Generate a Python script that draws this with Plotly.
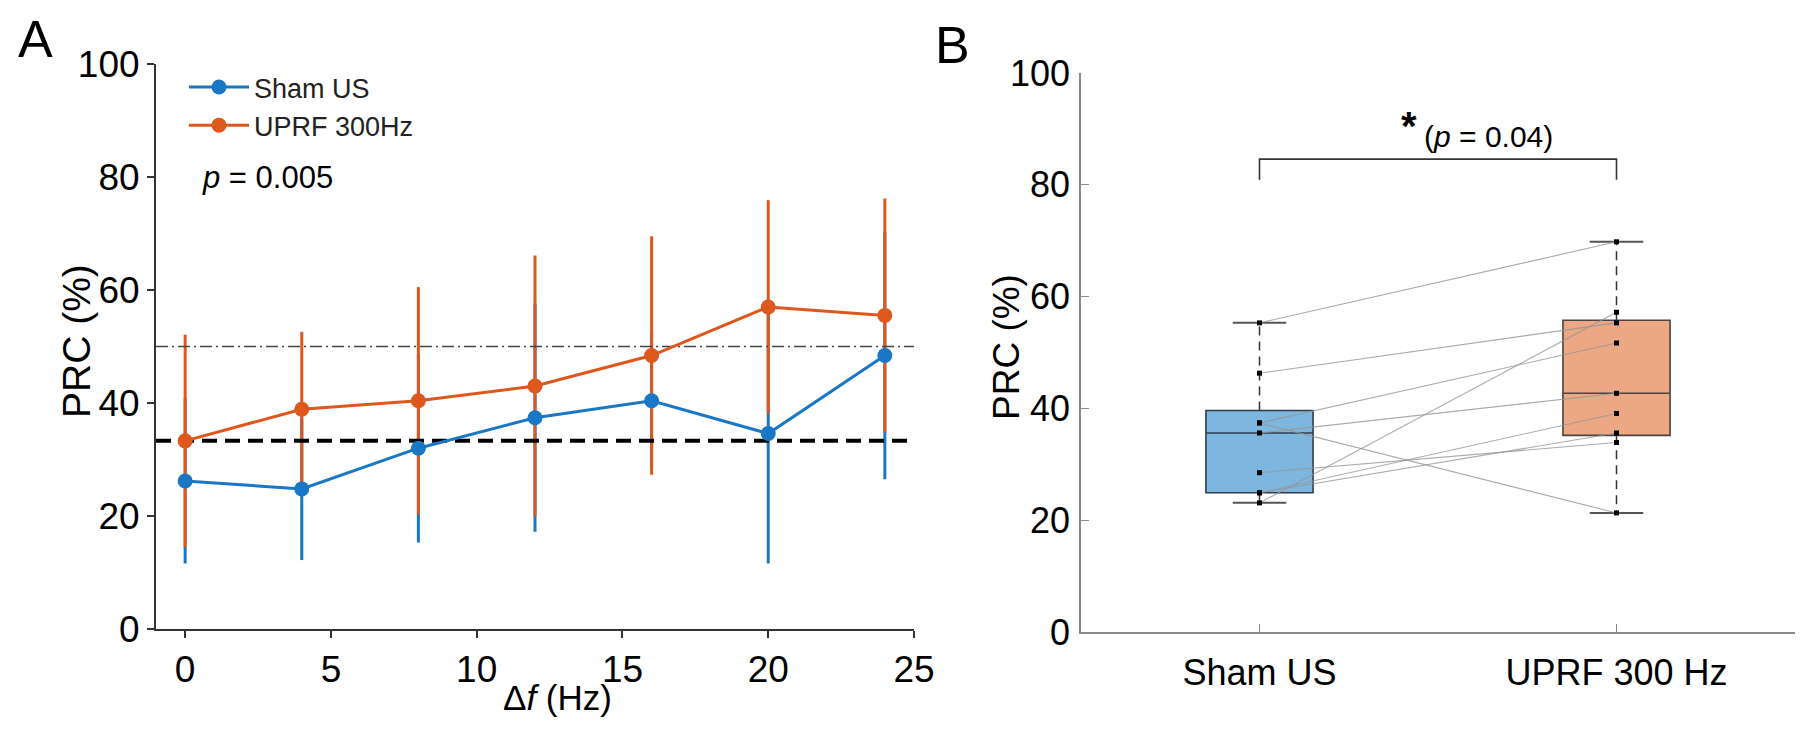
import numpy as np
import plotly.graph_objects as go

# ---------------- Data ----------------
# Panel A: PRC (%) vs frequency difference
delta_f = [0, 4, 8, 12, 16, 20, 24]
sham_mean = [26.2, 24.8, 32.0, 37.4, 40.4, 34.6, 48.4]
sham_err = [14.6, 12.6, 16.7, 20.2, 12.0, 23.0, 21.9]
uprf_mean = [33.3, 38.9, 40.4, 43.0, 48.4, 57.0, 55.5]
uprf_err = [18.8, 13.7, 20.1, 23.1, 21.1, 18.9, 20.7]
chance_lo = 33.3
chance_hi = 50.0
p_text_a = "<i>p</i> = 0.005"

# Panel B: paired subjects
groups = ["Sham US", "UPRF 300 Hz"]
sham_subj = [55.3, 46.3, 23.1, 37.4, 35.6, 37.4, 24.9, 28.5, 24.9]
uprf_subj = [69.8, 55.3, 57.2, 51.7, 42.7, 21.3, 39.1, 33.9, 35.6]
bracket_low, bracket_high = 80.9, 84.6
p_text_b = "(<i>p</i> = 0.04)"

# ---------------- Styles ----------------
BLUE = "#1a77c6"
ORANGE = "#de571d"
FONT = "Arial, Liberation Sans, Helvetica, sans-serif"
W, H = 1808, 731
OX, OY = 8, 7   # page offset compensation


def fx(p):
    return (p - OX) / W


def fy(p):
    return 1 - (p - OY) / H


fig = go.Figure()

# ---- Panel A ----
for mean, err, col in [(sham_mean, sham_err, BLUE), (uprf_mean, uprf_err, ORANGE)]:
    fig.add_trace(go.Scatter(
        x=delta_f, y=mean, mode="markers",
        marker=dict(size=1, color="rgba(0,0,0,0)"),
        error_y=dict(type="data", array=err, visible=True, color=col,
                     thickness=3, width=0),
        showlegend=False, hoverinfo="skip", xaxis="x", yaxis="y"))

fig.add_trace(go.Scatter(x=[-1, 25], y=[chance_hi, chance_hi], mode="lines",
                         line=dict(color="#444", width=1.6, dash="12px,4px,2px,4px"),
                         showlegend=False, hoverinfo="skip", xaxis="x", yaxis="y"))
fig.add_trace(go.Scatter(x=[-1, 25], y=[chance_lo, chance_lo], mode="lines",
                         line=dict(color="black", width=4, dash="15px,8px"),
                         showlegend=False, hoverinfo="skip", xaxis="x", yaxis="y"))

fig.add_trace(go.Scatter(x=delta_f, y=sham_mean, mode="lines+markers", name="Sham US",
                         line=dict(color=BLUE, width=3), marker=dict(size=15, color=BLUE),
                         xaxis="x", yaxis="y"))
fig.add_trace(go.Scatter(x=delta_f, y=uprf_mean, mode="lines+markers", name="UPRF 300Hz",
                         line=dict(color=ORANGE, width=3), marker=dict(size=15, color=ORANGE),
                         xaxis="x", yaxis="y"))

# ---- Panel B ----
box_fill = ["#7db6de", "#eca784"]
box_edge = ["#2f3d4f", "#4a4340"]
cap_half = 0.075
for i, (vals, fc, ec) in enumerate(zip([sham_subj, uprf_subj], box_fill, box_edge)):
    v = np.array(vals)
    q1, med, q3 = np.percentile(v, [25, 50, 75], method="hazen")
    iqr = q3 - q1
    hi = v[v <= q3 + 1.5 * iqr].max()
    lo = v[v >= q1 - 1.5 * iqr].min()
    fig.add_trace(go.Box(x=[i], q1=[q1], median=[med], q3=[q3],
                         lowerfence=[q1], upperfence=[q3], width=0.3,
                         fillcolor=fc, line=dict(color=ec, width=1.6),
                         whiskerwidth=0, boxpoints=False, showlegend=False,
                         hoverinfo="skip", xaxis="x2", yaxis="y2"))
    fig.add_trace(go.Scatter(x=[i, i, None, i, i], y=[q3, hi, None, q1, lo], mode="lines",
                             line=dict(color="#333", width=1.5, dash="9px,6px"),
                             showlegend=False, hoverinfo="skip", xaxis="x2", yaxis="y2"))
    fig.add_trace(go.Scatter(x=[i - cap_half, i + cap_half, None, i - cap_half, i + cap_half],
                             y=[hi, hi, None, lo, lo], mode="lines",
                             line=dict(color="#555", width=2),
                             showlegend=False, hoverinfo="skip", xaxis="x2", yaxis="y2"))

px, py = [], []
for s, u in zip(sham_subj, uprf_subj):
    px += [0, 1, None]
    py += [s, u, None]
fig.add_trace(go.Scatter(x=px, y=py, mode="lines",
                         line=dict(color="rgba(150,150,150,0.8)", width=1.1),
                         showlegend=False, hoverinfo="skip", xaxis="x2", yaxis="y2"))
fig.add_trace(go.Scatter(x=[0] * len(sham_subj) + [1] * len(uprf_subj),
                         y=sham_subj + uprf_subj, mode="markers",
                         marker=dict(symbol="square", size=5, color="black"),
                         showlegend=False, hoverinfo="skip", xaxis="x2", yaxis="y2"))

fig.add_trace(go.Scatter(x=[0, 0, 1, 1], y=[bracket_low, bracket_high, bracket_high, bracket_low],
                         mode="lines", line=dict(color="#333", width=1.6),
                         showlegend=False, hoverinfo="skip", xaxis="x2", yaxis="y2"))

# ---------------- Layout ----------------
axA = dict(showgrid=False, zeroline=False, showline=True, linecolor="#333", linewidth=2,
           ticks="outside", ticklen=7, tickwidth=2, tickcolor="#333", automargin=False,
           tickfont=dict(family=FONT, size=37, color="black"))
axB = dict(showgrid=False, zeroline=False, showline=True, linecolor="#8a8a8a", linewidth=1.5,
           ticks="inside", ticklen=8, tickwidth=1.2, tickcolor="#8a8a8a", automargin=False,
           tickfont=dict(family=FONT, size=36, color="black"))

fig.update_layout(
    template="none",
    width=W, height=H, margin=dict(l=0, r=0, t=0, b=0, pad=0, autoexpand=False),
    paper_bgcolor="white", plot_bgcolor="white",
    font=dict(family=FONT, color="black"),
    xaxis=dict(axA, domain=[fx(156), fx(914)], range=[-1, 25],
               tickvals=[0, 5, 10, 15, 20, 25], anchor="y"),
    yaxis=dict(axA, domain=[fy(628), fy(63)], range=[0, 100],
               tickvals=[0, 20, 40, 60, 80, 100], anchor="x"),
    xaxis2=dict(axB, domain=[fx(1081), fx(1795)], range=[-0.5, 1.5],
                tickvals=[0, 1], ticktext=groups, anchor="y2", ticklabelstandoff=8),
    yaxis2=dict(axB, domain=[fy(631), fy(72)], range=[0, 100],
                tickvals=[0, 20, 40, 60, 80, 100], anchor="x2", ticklabelstandoff=2),
    legend=dict(x=fx(184), y=fy(62), xanchor="left", yanchor="top",
                font=dict(family=FONT, size=27, color="#222"),
                bgcolor="rgba(0,0,0,0)", itemwidth=60, tracegroupgap=0),
    showlegend=True,
)

ann = [
    dict(text="A", x=fx(35), y=1.0, yanchor="top", font=dict(size=52)),
    dict(text="B", x=fx(952), y=1 - 6 / H, yanchor="top", font=dict(size=52)),
    dict(text="PRC (%)", x=fx(76), y=fy(340), textangle=-90, font=dict(size=39)),
    dict(text="PRC (%)", x=fx(1006), y=fy(346), textangle=-90, font=dict(size=37)),
    dict(text="Δ<i>f</i> (Hz)", x=fx(557), y=fy(696), font=dict(size=35)),
]
for a in ann:
    a.setdefault("yanchor", "middle")
    a.update(xref="paper", yref="paper", showarrow=False, xanchor="center")
    a["font"]["family"] = FONT
    a["font"]["color"] = "black"
    fig.add_annotation(**a)

fig.add_annotation(text=p_text_a, x=0.5, y=80, xref="x", yref="y", xanchor="left",
                   yanchor="middle", showarrow=False, font=dict(family=FONT, size=31, color="black"))
fig.add_annotation(text="<b>*</b>", x=0.42, y=90.5, xref="x2", yref="y2", xanchor="center",
                   yanchor="middle", showarrow=False, font=dict(family=FONT, size=40, color="black"))
fig.add_annotation(text=p_text_b, x=0.642, y=88.7, xref="x2", yref="y2", xanchor="center",
                   yanchor="middle", showarrow=False, font=dict(family=FONT, size=30, color="black"))

fig.write_html("out.html")
